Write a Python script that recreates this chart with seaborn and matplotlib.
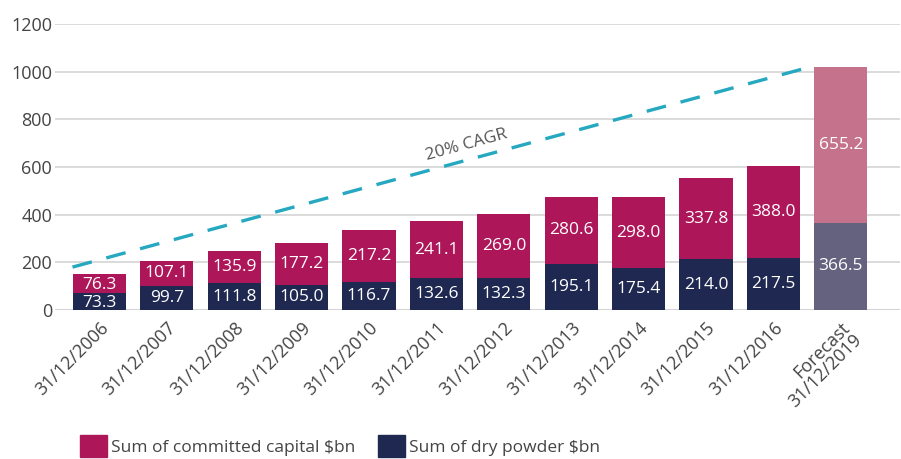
import matplotlib
matplotlib.use("Agg")
import matplotlib.pyplot as plt
from matplotlib.patches import Patch
import seaborn as sns
import pandas as pd

categories = ["31/12/2006", "31/12/2007", "31/12/2008", "31/12/2009", "31/12/2010",
              "31/12/2011", "31/12/2012", "31/12/2013", "31/12/2014", "31/12/2015",
              "31/12/2016", "Forecast\n31/12/2019"]
dry_powder = [73.3, 99.7, 111.8, 105.0, 116.7, 132.6, 132.3, 195.1, 175.4, 214.0, 217.5, 366.5]
committed = [76.3, 107.1, 135.9, 177.2, 217.2, 241.1, 269.0, 280.6, 298.0, 337.8, 388.0, 655.2]
yticks = [0, 200, 400, 600, 800, 1000, 1200]
cagr_start = 180
cagr_end = 1024

C_COM = "#AD1759"
C_DRY = "#1E2850"
C_COM_F = "#C5738D"
C_DRY_F = "#65627F"
C_LINE = "#25A8C0"

sns.set_theme(style="white")
plt.rcParams["font.family"] = ["Open Sans", "DejaVu Sans"]

df = pd.DataFrame({"cat": categories, "dry": dry_powder, "com": committed})
df["total"] = df["dry"] + df["com"]

fig = plt.figure(figsize=(9.01, 4.59), dpi=100)
ax = fig.add_axes([0.061, 0.3246, 0.938, 0.6231])

pal_com = [C_COM] * (len(categories) - 1) + [C_COM_F]
pal_dry = [C_DRY] * (len(categories) - 1) + [C_DRY_F]

sns.barplot(data=df, x="cat", y="total", hue="cat", palette=pal_com, legend=False,
            width=0.79, ax=ax, saturation=1, zorder=3, linewidth=0)
sns.barplot(data=df, x="cat", y="dry", hue="cat", palette=pal_dry, legend=False,
            width=0.79, ax=ax, saturation=1, zorder=3, linewidth=0)

for i, (d, c) in enumerate(zip(dry_powder, committed)):
    ax.text(i, d / 2 if d > 90 else d / 2 - 6, f"{d:.1f}", ha="center", va="center",
            color="white", fontsize=12.5, zorder=5)
    ax.text(i, d + c / 2 if c > 90 else d + c / 2 - 6, f"{c:.1f}", ha="center",
            va="center", color="white", fontsize=12.5, zorder=5)

# CAGR line from first bar's left edge to last bar's left edge
x0, x1 = -0.4, len(categories) - 1 - 0.4
ax.plot([x0, x1], [cagr_start, cagr_end], color=C_LINE, lw=2.4,
        dashes=(6, 4.5), zorder=4)
ax.text(5.45, 690, "20% CAGR", rotation=15.3, color="#555555", fontsize=12.5,
        ha="center", va="center", zorder=5)

ax.set_ylim(0, 1200)
ax.set_xlim(-0.66, 11.88)
ax.set_yticks(yticks)
ax.set_yticklabels([str(v) for v in yticks], color="#444444", fontsize=13)
ax.yaxis.grid(True, color="#D4D4D4", lw=1.2, zorder=0)
ax.set_axisbelow(True)
for s in ax.spines.values():
    s.set_visible(False)
ax.axhline(0, color="#D4D4D4", lw=1.5, zorder=2)
ax.tick_params(axis="both", length=0, pad=2)
ax.set_xlabel("")
ax.set_ylabel("")
ax.set_xticks(range(len(categories)))
ax.set_xticklabels(categories, rotation=45, ha="right", rotation_mode="anchor",
                   color="#444444", fontsize=13, linespacing=0.95)
ax.tick_params(axis="x", pad=6)

handles = [Patch(color=C_COM, label="Sum of committed capital $bn"),
           Patch(color=C_DRY, label="Sum of dry powder $bn")]
fig.legend(handles=handles, loc="lower left", bbox_to_anchor=(0.071, -0.03), ncol=2,
           frameon=False, fontsize=12.5, handlelength=1.55, handleheight=1.55,
           handletextpad=0.25, columnspacing=1.3, labelcolor="#444444")

fig.savefig("out.png", dpi=100)
